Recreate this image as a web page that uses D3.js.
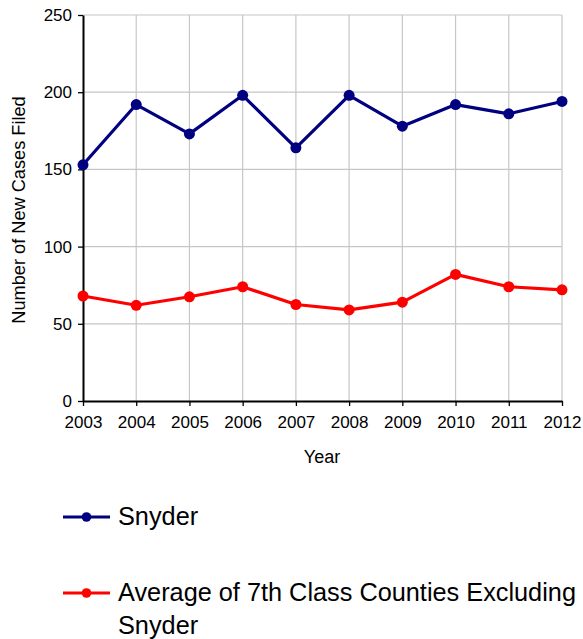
<!DOCTYPE html>
<html>
<head>
<meta charset="utf-8">
<script src="https://cdn.jsdelivr.net/npm/d3@7"></script>
<style>
  body { margin: 0; background: #fff; }
  svg { display: block; font-family: "Liberation Sans", Arial, sans-serif; }
</style>
</head>
<body>
<svg id="chart" width="583" height="639"></svg>
<script>
const years = [2003, 2004, 2005, 2006, 2007, 2008, 2009, 2010, 2011, 2012];
const snyder = [153, 192, 173, 198, 164, 198, 178, 192, 186, 194];
const average = [68, 62, 67.5, 74, 62.5, 59, 64, 82, 74, 72];
const yTicks = [0, 50, 100, 150, 200, 250];
const seriesNames = ["Snyder", "Average of 7th Class Counties Excluding Snyder"];
const colors = ["#000080", "#ff0000"];

const svg = d3.select("#chart");
const margin = { top: 15, right: 21, bottom: 238, left: 83 };
const width = 583 - margin.left - margin.right;
const height = 639 - margin.top - margin.bottom;

const chart = svg.append("g")
    .attr("transform", `translate(${margin.left},${margin.top})`);

const x = d3.scalePoint()
    .domain(years)
    .range([0, width]);

const y = d3.scaleLinear()
    .domain([0, 250])
    .range([height, 0]);

// grid
chart.append("g")
    .selectAll("line.h")
    .data(yTicks.slice(1))
    .enter()
    .append("line")
    .attr("x1", 0)
    .attr("x2", width)
    .attr("y1", d => y(d))
    .attr("y2", d => y(d))
    .attr("stroke", "#c6c6c6")
    .attr("stroke-width", 1.2);

chart.append("g")
    .selectAll("line.v")
    .data(years.slice(1))
    .enter()
    .append("line")
    .attr("x1", d => x(d))
    .attr("x2", d => x(d))
    .attr("y1", 0)
    .attr("y2", height)
    .attr("stroke", "#c6c6c6")
    .attr("stroke-width", 1.2);

// axes
const xAxis = chart.append("g")
    .attr("transform", `translate(0,${height})`)
    .call(d3.axisBottom(x).tickSize(5).tickPadding(10).tickSizeOuter(0));

const yAxis = chart.append("g")
    .call(d3.axisLeft(y).tickValues(yTicks).tickSize(5).tickPadding(6).tickSizeOuter(0));

[xAxis, yAxis].forEach(a => {
    a.select(".domain").attr("stroke", "#000").attr("stroke-width", 2);
    a.selectAll(".tick line").attr("stroke", "#000").attr("stroke-width", 1.3);
    a.selectAll(".tick text")
        .attr("fill", "#000")
        .style("font-size", "17px")
        .style("font-family", "'Liberation Sans', Arial, sans-serif");
});

// series
const series = [snyder, average];
const line = d3.line()
    .x((d, i) => x(years[i]))
    .y(d => y(d));

series.forEach((values, s) => {
    chart.append("path")
        .datum(values)
        .attr("fill", "none")
        .attr("stroke", colors[s])
        .attr("stroke-width", 3.2)
        .attr("stroke-linejoin", "round")
        .attr("d", line);

    chart.selectAll(`circle.s${s}`)
        .data(values)
        .enter()
        .append("circle")
        .attr("cx", (d, i) => x(years[i]))
        .attr("cy", d => y(d))
        .attr("r", 5.5)
        .attr("fill", colors[s]);
});

// axis titles
svg.append("text")
    .attr("x", 322)
    .attr("y", 463)
    .attr("text-anchor", "middle")
    .style("font-size", "18px")
    .text("Year");

svg.append("text")
    .attr("transform", "translate(25,210) rotate(-90)")
    .attr("text-anchor", "middle")
    .style("font-size", "18.2px")
    .text("Number of New Cases Filed");

// legend
const legend = svg.append("g");
const legendRows = [
    { y: 517, lines: [seriesNames[0]] },
    { y: 593, lines: ["Average of 7th Class Counties Excluding", "Snyder"] }
];

legendRows.forEach((row, s) => {
    legend.append("line")
        .attr("x1", 63)
        .attr("x2", 110)
        .attr("y1", row.y)
        .attr("y2", row.y)
        .attr("stroke", colors[s])
        .attr("stroke-width", 3);
    legend.append("circle")
        .attr("cx", 86.5)
        .attr("cy", row.y)
        .attr("r", 4.8)
        .attr("fill", colors[s]);
    const t = legend.append("text")
        .attr("x", 118)
        .attr("y", row.y + 8)
        .style("font-size", "25.3px");
    row.lines.forEach((l, j) => {
        t.append("tspan")
            .attr("x", 118)
            .attr("dy", j === 0 ? 0 : 32.6)
            .text(l);
    });
});
</script>
</body>
</html>
